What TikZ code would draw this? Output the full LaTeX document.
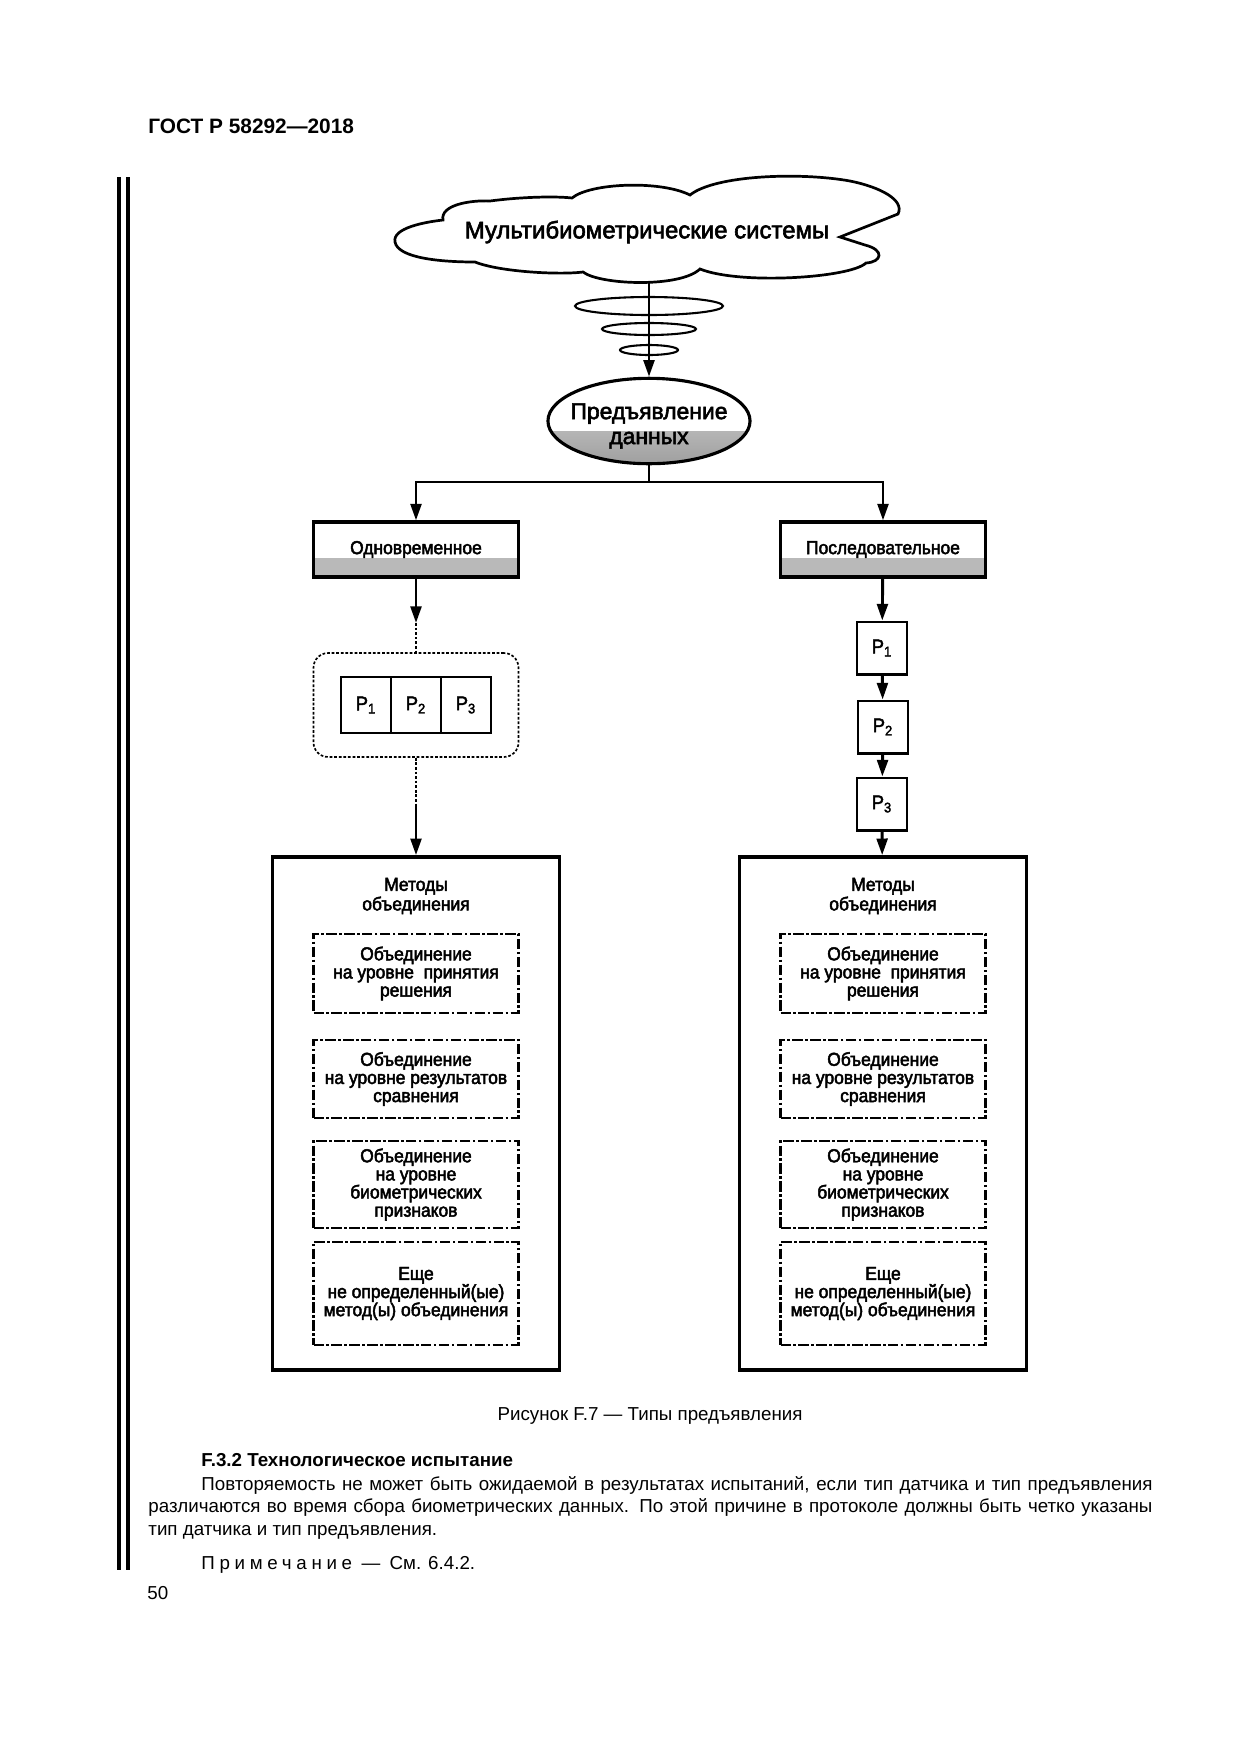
\documentclass[tikz,border=0pt]{standalone}
\usepackage{fontspec}
\setmainfont{Liberation Sans}
\newfontfamily\dgfont[FakeStretch=0.93,FakeBold=2.5]{Liberation Sans}
\newfontfamily\cloudfont[FakeBold=2.5]{Liberation Sans}
\newfontfamily\spfont[LetterSpace=25]{Liberation Sans}
\usetikzlibrary{arrows.meta,shapes.geometric}

\tikzset{
  every node/.style={inner sep=0pt},
  arrow/.style={-{Triangle[length=8pt,width=5.2pt]}, line width=1.4pt},
  dots/.style={line width=0.8pt, dash pattern=on 1.3pt off 0.9pt},
  modebox/.style={rectangle, draw, line width=1.5pt, minimum width=98.4pt, minimum height=26.4pt,
    font=\dgfont\fontsize{9}{10}\selectfont,
    path picture={\fill[gray!55] (path picture bounding box.south west) rectangle ([yshift=9pt]path picture bounding box.south east);}},
  pcell/.style={rectangle, draw, line width=1.4pt, minimum width=24pt, minimum height=26.9pt, font=\dgfont\fontsize{9.5}{10}\selectfont},
  methbox/.style={rectangle, draw, line width=1.8pt, minimum width=137.8pt, minimum height=246.2pt},
  fusebox/.style={rectangle, draw, line width=1pt, dash pattern=on 5pt off 1.2pt on 1.2pt off 1.2pt,
    minimum width=98.4pt, align=center, font=\dgfont\fontsize{9}{8.7}\selectfont},
  bodytext/.style={anchor=base west, font=\fontsize{9}{11}\selectfont}
}

\begin{document}
\begin{tikzpicture}[x=0.48pt, y=-0.48pt]
\useasboundingbox[fill=white] (0,0) rectangle (1240,1754);

% page header and margin bars
\node[anchor=base west, font=\bfseries\fontsize{10}{12}\selectfont] (hdr) at (148,133) {ГОСТ Р 58292—2018};
\draw[line width=1.9pt] (119,177) -- (119,1570);
\draw[line width=1.9pt] (128,177) -- (128,1570);

% cloud
\draw[line width=1.3pt, fill=white] (395,242)
  .. controls (392,228) and (425,222) .. (443,220)
  .. controls (440,205) and (470,200) .. (490,201)
  .. controls (520,197) and (555,196) .. (572,198)
  .. controls (590,183) and (660,180) .. (690,195)
  .. controls (715,175) and (800,172) .. (850,181)
  .. controls (880,187) and (905,200) .. (898,214)
  -- (840,237) -- (865,245)
  .. controls (885,250) and (882,262) .. (866,263)
  .. controls (850,278) and (740,285) .. (700,269)
  .. controls (680,288) and (600,285) .. (583,272)
  .. controls (560,275) and (500,272) .. (475,262)
  .. controls (440,262) and (398,258) .. (395,242) -- cycle;
\node[font=\cloudfont\fontsize{11.5}{13}\selectfont] (multi) at (647,232) {Мультибиометрические системы};
\coordinate (cloudbot) at (649,282);

% spiral
\draw[line width=1pt] (649,306) ellipse [x radius=74, y radius=9];
\draw[line width=1pt] (649,329) ellipse [x radius=47, y radius=6];
\draw[line width=1pt] (649,350) ellipse [x radius=29, y radius=5];

\node[ellipse, draw, line width=1.5pt, minimum width=97pt, minimum height=41pt,
  path picture={\shade[top color=gray!30, bottom color=gray!75] (path picture bounding box.south west) rectangle ([yshift=15.4pt]path picture bounding box.south east);}]
  (pred) at (649,421) {};
\node[align=center, font=\cloudfont\fontsize{11}{12}\selectfont] (predtxt) at (649,426) {Предъявление\\данных};
\draw[arrow] (cloudbot) -- (pred);

% two modes
\node[modebox] (simul) at (416,549.5) {Одновременное};
\node[modebox] (seq) at (883,549.5) {Последовательное};
\coordinate (split) at (649,482);
\draw[line width=1.4pt] (pred) -- (split);
\draw[arrow] (split) -| (simul);
\draw[arrow] (split) -| (seq);

% simultaneous
\node[rectangle, draw, dots, rounded corners=7pt, minimum width=98.4pt, minimum height=49.9pt] (pgroup) at (416,705) {};
\node[pcell] (pa) at (366,705) {P\textsubscript{1}};
\node[pcell] (pb) at (416,705) {P\textsubscript{2}};
\node[pcell] (pc) at (466,705) {P\textsubscript{3}};
\coordinate (tipA) at (416,623);
\coordinate (tipB) at (416,805);
\draw[arrow] (simul) -- (tipA);
\draw[dots] (tipA) -- (pgroup);
\draw[dots] (pgroup) -- (tipB);

% sequential
\node[pcell, minimum height=25pt] (qa) at (882,648) {P\textsubscript{1}};
\node[pcell, minimum height=25pt] (qb) at (883,727) {P\textsubscript{2}};
\node[pcell, minimum height=25pt] (qc) at (882,804) {P\textsubscript{3}};
\draw[arrow] (seq) -- (qa);
\draw[arrow] (qa) -- (qb);
\draw[arrow] (qb) -- (qc);

% fusion methods, left
\node[methbox] (methA) at (416,1113.5) {};
\node[align=center, font=\dgfont\fontsize{9}{8.3}\selectfont] (ttlA) at (416,896) {Методы\\объединения};
\node[fusebox, minimum height=37.9pt] (decA) at (416,973.5) {Объединение\\на уровне~ принятия\\решения};
\node[fusebox, minimum height=37.4pt] (scoA) at (416,1079) {Объединение\\на уровне результатов\\сравнения};
\node[fusebox, minimum height=41.8pt] (feaA) at (416,1184.5) {Объединение\\на уровне\\биометрических\\признаков};
\node[fusebox, minimum height=49.4pt] (undA) at (416,1293.5) {Еще\\не определенный(ые)\\метод(ы) объединения};
\draw[arrow] (tipB) -- (methA);

% fusion methods, right
\node[methbox] (methB) at (883,1113.5) {};
\node[align=center, font=\dgfont\fontsize{9}{8.3}\selectfont] (ttlB) at (883,896) {Методы\\объединения};
\node[fusebox, minimum height=37.9pt] (decB) at (883,973.5) {Объединение\\на уровне~ принятия\\решения};
\node[fusebox, minimum height=37.4pt] (scoB) at (883,1079) {Объединение\\на уровне результатов\\сравнения};
\node[fusebox, minimum height=41.8pt] (feaB) at (883,1184.5) {Объединение\\на уровне\\биометрических\\признаков};
\node[fusebox, minimum height=49.4pt] (undB) at (883,1293.5) {Еще\\не определенный(ые)\\метод(ы) объединения};
\draw[arrow] (qc) -- (methB);

% caption and text
\node[anchor=base, font=\fontsize{9}{11}\selectfont] (cap) at (650,1420) {Рисунок F.7 — Типы предъявления};
\node[bodytext, font=\bfseries\fontsize{9}{11}\selectfont] (sect) at (201,1466) {F.3.2 Технологическое испытание};
\node[bodytext] (lna) at (201,1490) {\makebox[456.5pt][s]{Повторяемость не может быть ожидаемой в результатах испытаний, если тип датчика и тип предъявления}};
\node[bodytext] (lnb) at (148,1512) {\makebox[481.9pt][s]{различаются во время сбора биометрических данных. По этой причине в протоколе должны быть четко указаны}};
\node[bodytext] (lnc) at (148,1535) {тип датчика и тип предъявления.};
\node[bodytext] (note) at (201,1569) {{\spfont Примечание}\enspace—\enspace См. 6.4.2.};
\node[bodytext] (pgno) at (147,1599) {50};
\end{tikzpicture}
\end{document}
